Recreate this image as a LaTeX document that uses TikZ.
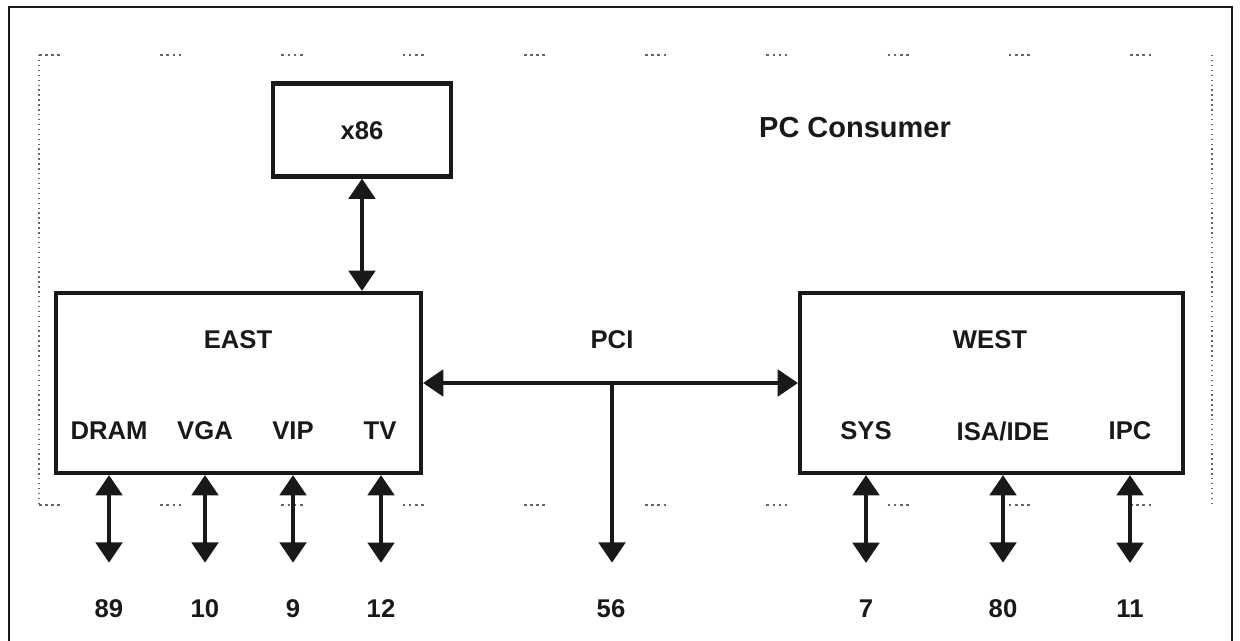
\documentclass[tikz,border=0pt]{standalone}
\usepackage{fontspec}
\setmainfont{Liberation Sans}
\usetikzlibrary{arrows.meta}

\tikzset{
	chip/.style={draw=black!90, line width=2.4pt, inner sep=0pt},
	lbl/.style={font=\bfseries\fontsize{14.6}{16}\selectfont, text=black!90, inner sep=0pt},
	bus/.style={draw=black!90, line width=2.2pt, {Triangle[width=15pt,length=11.5pt]}-{Triangle[width=15pt,length=11.5pt]}},
	tap/.style={draw=black!90, line width=2.2pt, -{Triangle[width=15pt,length=11.5pt]}},
	rim/.style={draw=black!60, line width=0.8pt}
}

\begin{document}
\begin{tikzpicture}[x=0.02cm, y=-0.02cm]
	\useasboundingbox (0,0) rectangle (1240,640);

	% marco exterior
	\draw[black!90, line width=1.5pt] (9,641) -- (9,7) -- (1232,7) -- (1232,641);

	% limite del chipset (punteado)
	\draw[rim, dotted] (39,55) -- (39,505);
	\draw[rim, dotted] (1212,55) -- (1212,505);
	\draw[rim, dash pattern=on 1.5pt off 2pt on 1.5pt off 2pt on 1.5pt off 2pt on 1.5pt off 57pt] (39,55) -- (1212,55);
	\draw[rim, dash pattern=on 1.5pt off 2pt on 1.5pt off 2pt on 1.5pt off 2pt on 1.5pt off 57pt] (39,505) -- (1212,505);
	\node[lbl, font=\bfseries\fontsize{16.5}{18}\selectfont] (pcc) at (855,128) {PC Consumer};

	% bloques
	\node[chip, minimum width=3.56cm, minimum height=1.86cm] (x86) at (362,130) {};
	\node[chip, minimum width=7.3cm, minimum height=3.6cm] (east) at (238.5,383) {};
	\node[chip, minimum width=7.66cm, minimum height=3.6cm] (west) at (991.5,383) {};
	\node[lbl] (cpu) at (362,131) {x86};
	\node[lbl] (eastname) at (238,340) {EAST};
	\node[lbl] (westname) at (990,340) {WEST};
	\node[lbl] (pci) at (612,340) {PCI};

	% puertos de EAST
	\node[lbl] (dram) at (109,431) {DRAM};
	\node[lbl] (vga) at (205,431) {VGA};
	\node[lbl] (vip) at (293,431) {VIP};
	\node[lbl] (tv) at (380,431) {TV};

	% puertos de WEST
	\node[lbl] (sys) at (866,431) {SYS};
	\node[lbl] (isa) at (1003,431) {ISA/IDE};
	\node[lbl] (ipc) at (1130,431) {IPC};

	% numero de pines
	\node[lbl] (n89) at (109,609) {89};
	\node[lbl] (n10) at (205,609) {10};
	\node[lbl] (n9) at (293,609) {9};
	\node[lbl] (n12) at (381,609) {12};
	\node[lbl] (n56) at (611,609) {56};
	\node[lbl] (n7) at (866,609) {7};
	\node[lbl] (n80) at (1003,609) {80};
	\node[lbl] (n11) at (1130,609) {11};

	% buses
	\draw[bus] (x86.south) -- (x86.south |- east.north);
	\draw[bus] (east.east) -- (west.west);
	\coordinate (pcitap) at (612,383);
	\draw[tap, shorten >=21pt] (pcitap) -- (pcitap |- n56.north);

	\draw[bus, shorten >=21pt] (n89 |- east.south) -- (n89.north);
	\draw[bus, shorten >=21pt] (n10 |- east.south) -- (n10.north);
	\draw[bus, shorten >=21pt] (n9 |- east.south) -- (n9.north);
	\draw[bus, shorten >=21pt] (n12 |- east.south) -- (n12.north);
	\draw[bus, shorten >=21pt] (n7 |- west.south) -- (n7.north);
	\draw[bus, shorten >=21pt] (n80 |- west.south) -- (n80.north);
	\draw[bus, shorten >=21pt] (n11 |- west.south) -- (n11.north);
\end{tikzpicture}
\end{document}
